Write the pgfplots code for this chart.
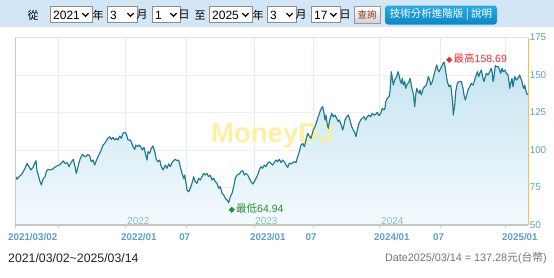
\documentclass[border=0pt]{standalone}
\usepackage{fontspec}
\setmainfont{Liberation Sans}
\newfontfamily\cjk{Noto Sans CJK TC}
\newfontfamily\dejavu{DejaVu Sans}
\usepackage{pgfplots}
\pgfplotsset{compat=1.18}
\usepackage{pgfplotstable}

\definecolor{hdr}{HTML}{D3E6F6}
\definecolor{tickblue}{HTML}{5E9FC6}
\definecolor{linec}{HTML}{1E7A8C}
\definecolor{filltop}{HTML}{C6E4F0}
\definecolor{fillbot}{HTML}{F3FAFD}
\definecolor{vgrid}{HTML}{DCEEF8}
\definecolor{hgrid}{HTML}{EEEEEE}
\definecolor{framec}{HTML}{CCCCCC}
\definecolor{yel}{HTML}{F5C245}
\definecolor{wm}{HTML}{FFEE9C}
\definecolor{hi}{HTML}{E8302C}
\definecolor{lo}{HTML}{2E8B3A}
\definecolor{yr}{HTML}{8FC0B4}
\definecolor{btntop}{HTML}{2AAAE2}
\definecolor{btnbot}{HTML}{0C86C6}
\definecolor{btntxt}{HTML}{8B3A1A}

\newcommand\selbox[3]{%
  \filldraw[fill=white,draw=black!45,line width=0.6pt] (#1,254.5) rectangle (#2,270.5);
  \node[anchor=west,inner sep=0] at (#1+3,262) {\fontsize{12}{12}\selectfont #3};
  \draw[line width=1.2pt,line cap=round] (#2-9.5,263.8) -- (#2-6.5,260.8) -- (#2-3.5,263.8);}
\newcommand\hz[2]{\node[anchor=center,inner sep=0] at (#1,262) {\cjk\fontsize{11}{11}\selectfont #2};}

\pgfplotstableread{
x y
15 83.3
17 80.5
19 82.2
22 84
25 87.8
27 91
29 88.9
31 86.7
33 88.5
34 90
36 92.9
37 86
38 84
40 79
41.3 76.7
43.3 81
45 82
46.3 85.6
48 87.1
50 86.7
52.3 87.1
54.7 88.5
57.3 89.5
59.7 90
61.7 91.6
63.3 92.7
65 91
67.3 91.5
69 88.9
71.3 92
73.3 93.8
75 88.9
76.3 84.4
78 88.9
80 93.8
82.3 97.1
84 96
86 95.6
88 97.1
89.7 96
91.3 92.2
93 93.3
94.7 90
96.3 92.9
98 95.6
99.7 97.8
101.3 100
103 103.3
104.7 104.4
106.3 106.2
108 107.8
109.7 108.9
111.3 107.1
113 108.4
114.7 106.7
116.3 107.8
118 106.7
119.7 109.3
121.3 107.8
123 111.1
124.7 111.8
126.3 110.7
128 106.7
129.7 106.7
131.3 105.6
133 102.2
134.7 100.4
135.7 103.3
137.3 102.2
139 103.3
140.7 102.2
142.3 100
144 101.8
145.3 97.8
147 93.3
148 98.9
149.7 97.8
151.3 101.1
153 102.7
154.7 98.9
156.3 93.8
158 92.2
159.7 93.3
161.3 88.9
163 86.7
165.3 90
167 87.8
168.7 90.7
170.3 88.9
172 91.6
173.7 92.9
175.3 93.8
177 92.9
178.7 93.3
180.3 88.9
182 84.4
183.7 81.1
184.7 83.3
186 77.8
187 73.3
188.7 72.2
190.3 74.4
192 77.8
193.7 82.2
195.3 78.9
197 77.8
198.7 81.1
200.3 80
202 82.2
203.7 84.4
205.3 83.3
207 84.4
208.7 82.2
210.3 83.3
212 80
213.7 81.1
215.3 78.9
217 77.8
218.7 74.4
220.3 75.6
222 71.1
223.7 70
225.3 67.8
227 66.7
228.7 64.94
230.3 68.9
232 71.1
233.7 75.6
235.3 81.1
237 83.3
239.3 84
241 85.6
242.7 86.2
244.3 83.3
246 84.4
247.7 83.3
249.3 81.1
251 78.9
252.7 77.3
254.3 78.9
256 81.1
257.7 83.3
259.3 86.7
261 88.9
262.7 87.8
264.3 90
266 88.9
267.7 91.1
269.3 92.2
271 91.1
272.7 90
274.3 91.6
276 93.3
277.7 92.2
279.3 93.8
281 91.6
282.7 93.3
284.3 92.2
286 90
287.7 88.4
289.3 91.1
291 90.7
292.7 91.6
294.3 92.2
296 91.6
297.7 95.6
299.3 98.9
301 103.3
302.7 104.4
304.3 102.2
306 106.7
307.7 111.1
309.3 109.3
311 107.8
313.3 113.3
315 115.6
316.7 118.9
318.3 122.2
320 125.6
321.7 128.2
322.7 128.9
324 124.4
325 120
326 123.3
327.3 116.7
328.3 114.4
329.3 118.9
330.7 122.2
331.7 124.4
333.3 122.2
335 123.3
336.7 121.1
338.3 118.9
339.3 120
340.7 117.8
341.7 115.6
342.7 113.3
344 116.7
345 120
346.7 122.2
348.3 123.3
350 120
351.7 115.6
353.3 113.3
355 111.1
356 108.9
357.3 113.3
359 117.8
360.7 120
362.3 121.1
364 122.2
365.7 120
367.3 122.2
369 123.3
370.7 122.2
372.3 124.4
374 123.3
375.7 123.8
377.3 125.1
379 122.9
380.7 124.4
382.3 127.8
384 126.7
385 127.8
385.7 132.2
387.3 134.4
389 135.6
390 138.9
391.3 152.2
392.3 147.8
393.3 143.3
394.7 146.7
396.7 148.9
398 152.2
399 150
400 146.7
401.3 144.4
402.3 147.8
403.3 143.3
404.7 145.6
405.7 141.1
406.7 143.3
408 144.4
409 145.6
410 147.8
411.3 143.3
412.3 140
413.3 137.8
414.7 128.9
415.7 136.7
416.7 141.1
418 138.9
419 137.8
420 140
421.3 136.7
422.3 138.9
423.3 141.1
424.7 142.2
426.3 143.3
427.3 145.6
428.3 148.9
429.7 146.7
430.7 143.3
432.3 145.6
434 150
435.7 154.4
436.7 156.7
438 153.3
439 152.2
440.7 154.4
442.3 156.7
444 158.69
445 155.6
446 151.1
447.3 145.6
449 142.2
450.7 143.3
451.7 137.8
452.7 131.1
453.3 123.3
454.7 130
455.7 138.9
457.3 144.4
459 145.6
461.3 145.6
463 141.1
464 136.7
465.3 133.3
466.3 135.6
468 140
469.7 142.2
471.3 144.4
473 143.3
474.7 146.7
476.3 150
477.3 152.2
478.7 148.9
479.7 151.1
481.3 153.3
483 147.8
484 145.6
485.3 148.9
486.3 151.1
488 150
489.7 152.2
491.3 154.4
492.3 151.1
493 145.6
494 148.9
495.3 156.2
496.3 155.6
498 155.6
499.7 153.3
500.7 151.1
502 154.4
503 152.2
504.7 153.3
506.3 151.1
508 150
509 145.6
509.7 141.1
510.7 144.4
512 147.8
513 142.2
514.7 148.9
516.3 146.7
518 147.8
519.7 150
520.7 147.8
522 145.6
523 142.2
524 141.1
524.7 143.3
525.7 140
527 137.1
528 137.28
}\pricedata

\begin{document}
\begin{tikzpicture}[x=1pt,y=1pt]
\useasboundingbox (0,0) rectangle (554,277);
\fill[white] (0,0) rectangle (554,277);
% header bar
\fill[hdr] (0,250) rectangle (554,277);
\hz{33}{從}
\selbox{50}{92}{2021}
\hz{98}{年}
\selbox{107}{137}{3}
\hz{142}{月}
\selbox{152}{180}{1}
\hz{184}{日}
\hz{200}{至}
\selbox{209}{252}{2025}
\hz{258}{年}
\selbox{267}{296}{3}
\hz{301}{月}
\selbox{311}{340}{17}
\hz{345}{日}
\shade[top color=white,bottom color=black!18] (354,253.5) rectangle (380,270.5);
\draw[black!40,line width=0.6pt] (354,253.5) rectangle (380,270.5);
\node[inner sep=0,text=btntxt] at (367,262) {\cjk\fontsize{9.5}{9.5}\selectfont 查詢};
\shade[top color=btntop,bottom color=btnbot,rounded corners=3pt] (385,252.5) rectangle (497,271.5);
\node[inner sep=0,text=white] at (441,262) {\cjk\fontsize{10.5}{10.5}\selectfont 技術分析進階版 | 說明};

\begin{axis}[name=main, at={(15pt,52pt)}, anchor=south west,
  scale only axis, width=513.3pt, height=187.5pt,
  xmin=15, xmax=528.3, ymin=50, ymax=175,
  axis line style={draw=none},
  xtick={15,58.3,125,186,254,313.3,379.3,440.7,505.7},
  xticklabels={},
  xtick pos=bottom, xtick align=outside,
  major tick length=3pt,
  xtick style={draw=framec, line width=0.6pt},
  ytick={50,75,100,125,150,175},
  yticklabel pos=right,
  ytick style={draw=none},
  yticklabel style={font=\fontsize{9.8}{10}\selectfont, text=tickblue, anchor=west, xshift=-2pt},
  /pgf/number format/assume math mode=true,
  xmajorgrids, ymajorgrids,
  x grid style={vgrid, line width=0.6pt},
  y grid style={hgrid, line width=0.6pt},
  clip=true]
\addplot[draw=none, top color=filltop, bottom color=fillbot] table[x=x,y=y] {\pricedata} \closedcycle;
\node[anchor=base west, inner sep=0, text=wm, opacity=0.9] at (axis cs:211,104.7) {\bfseries\fontsize{27.5}{28}\selectfont MoneyDJ};
\addplot[linec, line width=1.15pt, line join=round] table[x=x,y=y] {\pricedata};
\node[anchor=west, inner sep=0, text=hi] at (axis cs:446,160.8) {{\dejavu\fontsize{8.5}{8.5}\selectfont ◆}\hspace{1pt}{\cjk\fontsize{10.5}{10.5}\selectfont 最高}\fontsize{10.5}{10.5}\selectfont 158.69};
\node[anchor=west, inner sep=0, text=lo] at (axis cs:228.5,61.1) {{\dejavu\fontsize{8.5}{8.5}\selectfont ◆}\hspace{1pt}{\cjk\fontsize{10.5}{10.5}\selectfont 最低}\fontsize{10.5}{10.5}\selectfont 64.94};
\end{axis}

% frame
\draw[framec, line width=0.8pt] (main.south west) -- (main.north west);
\draw[black!12, line width=0.6pt] (main.north west) -- (main.north east);
\draw[black!22, line width=1.3pt] (main.south west) -- (main.south east);
\draw[yel, line width=1.6pt] (main.south east) -- (main.north east);

% year labels
\begin{scope}[every node/.style={inner sep=0, anchor=west, text=yr, font=\fontsize{10}{10}\selectfont}]
\node at (127,56) {2022};
\node at (255,56) {2023};
\node at (381,56) {2024};
\end{scope}

% x tick labels
\begin{scope}[every node/.style={inner sep=0, text=tickblue, font=\bfseries\fontsize{9.8}{10}\selectfont}]
\node[anchor=west] at (8,39.5) {2021/03/02};
\node[anchor=west] at (121,39.5) {2022/01};
\node at (184.7,39.5) {07};
\node[anchor=west] at (250,39.5) {2023/01};
\node at (311,39.5) {07};
\node[anchor=west] at (374,39.5) {2024/01};
\node at (438.5,39.5) {07};
\node[anchor=west] at (502,39.5) {2025/01};
\end{scope}

% bottom texts
\node[anchor=west, inner sep=0, text=black!87] at (8,19) {\fontsize{12.3}{12.3}\selectfont 2021/03/02\char`~2025/03/14};
\node[anchor=east, inner sep=0, text=black!55] at (547,19) {\fontsize{10.8}{10.8}\selectfont Date2025/03/14 = 137.28{\cjk 元}({\cjk 台幣})};
\end{tikzpicture}
\end{document}
